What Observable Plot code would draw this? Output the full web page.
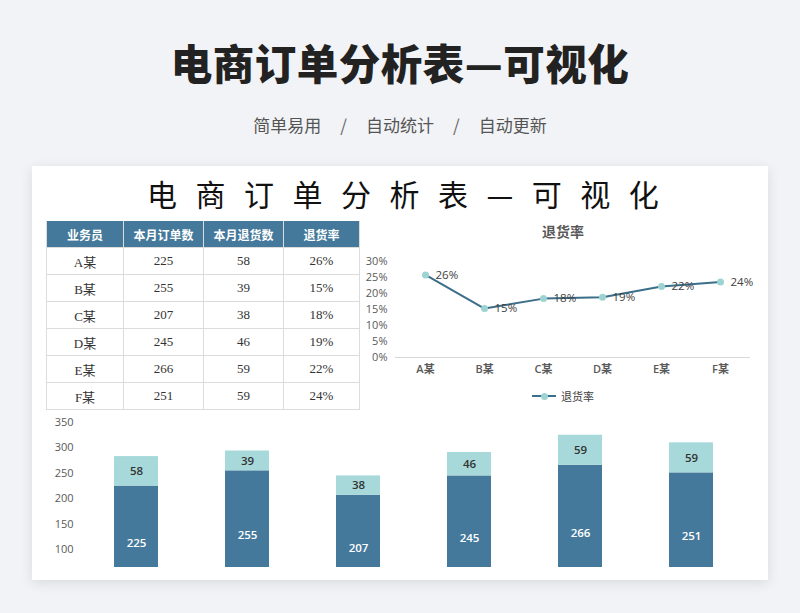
<!DOCTYPE html>
<html><head><meta charset="utf-8">
<script src="https://cdn.jsdelivr.net/npm/d3@7"></script>
<script src="https://cdn.jsdelivr.net/npm/@observablehq/plot@0.6"></script>
<style>
body{margin:0;background:#f2f3f6;font-family:"Noto Sans CJK SC","Noto Sans",sans-serif;}
#page{position:relative;width:800px;height:613px;overflow:hidden;}
#title{position:absolute;left:0;top:37px;width:800px;text-align:center;font-size:41.5px;line-height:50px;font-weight:900;color:#222;letter-spacing:0.5px;}
#sub{position:absolute;left:0;top:114px;width:800px;text-align:center;font-size:17px;line-height:22px;color:#555;}
#sub .sl{margin:0 19px;color:#666;}
#card{position:absolute;left:32px;top:166px;width:736px;height:414px;background:#fff;box-shadow:0 3px 12px rgba(0,0,0,0.10);}
#ctitle{position:absolute;left:115px;top:9px;font-size:30px;line-height:36px;letter-spacing:18.5px;white-space:nowrap;color:#111;font-weight:400;}
#tbl{position:absolute;left:14px;top:55px;border-collapse:collapse;width:313px;table-layout:fixed;}
#tbl th{background:#44799b;color:#fff;font-size:12px;font-weight:700;height:26px;padding:0;border:1px solid #dcdcdc;border-top:none;text-align:center;}
#tbl td{height:26px;padding:0;border:1px solid #dcdcdc;text-align:center;font-family:"Liberation Serif","Noto Sans CJK SC",serif;font-size:13px;color:#333;}
#ltitle{position:absolute;left:481px;top:55px;width:100px;text-align:center;font-size:14px;font-weight:700;color:#595959;}
#line{position:absolute;left:328px;top:74px;}
#legend{position:absolute;left:500px;top:222px;font-size:11px;color:#404040;display:flex;align-items:center;white-space:nowrap;}
#legend .ln{position:relative;width:24px;height:2px;background:#3b6e89;margin-right:5px;}
#legend .ln i{position:absolute;left:9px;top:-2.5px;width:7px;height:7px;border-radius:50%;background:#9ed3d3;}
#bar{position:absolute;left:0;top:244px;}
</style></head><body>
<div id="page">
  <div id="title">电商订单分析表—可视化</div>
  <div id="sub"><span>简单易用</span><span class="sl">/</span><span>自动统计</span><span class="sl">/</span><span>自动更新</span></div>
  <div id="card">
    <div id="ctitle">电商订单分析表—可视化</div>
    <table id="tbl"></table>
    <div id="ltitle">退货率</div>
    <div id="line"></div>
    <div id="legend"><div class="ln"><i></i></div><span>退货率</span></div>
    <div id="bar"></div>
  </div>
</div>
<script>
const names = ["A某","B某","C某","D某","E某","F某"];
const orders = [225,255,207,245,266,251];
const returns = [58,39,38,46,59,59];
const rates = [0.258,0.153,0.184,0.188,0.222,0.236];
const rateLabels = ["26%","15%","18%","19%","22%","24%"];
const headers = ["业务员","本月订单数","本月退货数","退货率"];
const pctTicks = [0,0.05,0.1,0.15,0.2,0.25,0.3];
const barTicks = [100,150,200,250,300,350];

const DARK = "#45799b", LIGHT = "#a7d9da";
const FONT = "'Open Sans','Noto Sans CJK SC',sans-serif";

// table
const tbl = document.getElementById("tbl");
const colW = [77,80,80,76];
let html = "<colgroup>" + colW.map(w=>`<col style="width:${w}px">`).join("") + "</colgroup>";
html += "<tr>" + headers.map(h=>`<th>${h}</th>`).join("") + "</tr>";
names.forEach((n,i)=>{
  html += `<tr><td>${n}</td><td>${orders[i]}</td><td>${returns[i]}</td><td>${rateLabels[i]}</td></tr>`;
});
tbl.innerHTML = html;

// line chart
const lineData = names.map((n,i)=>({name:n, rate:rates[i], label:rateLabels[i]}));
const linePlot = Plot.plot({
  width:400, height:140,
  marginLeft:35, marginRight:10, marginTop:21, marginBottom:23,
  style:{fontFamily:FONT, fontSize:"11px", color:"#595959", background:"transparent", overflow:"visible"},
  x:{type:"point", domain:names, padding:0.5, label:null},
  y:{domain:[0,0.3], label:null},
  marks:[
    Plot.axisY({ticks:pctTicks, tickFormat:d3.format(".0%"), tickSize:0, tickPadding:8, label:null}),
    Plot.axisX({tickSize:0, tickPadding:8, label:null, fontWeight:600}),
    Plot.ruleY([0], {stroke:"#d9d9d9"}),
    Plot.line(lineData, {x:"name", y:"rate", stroke:"#3b6e89", strokeWidth:2}),
    Plot.dot(lineData, {x:"name", y:"rate", r:3.5, fill:"#9ed3d3", stroke:"none"}),
    Plot.text(lineData, {x:"name", y:"rate", text:"label", textAnchor:"start", dx:10, fill:"#404040", fontSize:11.5})
  ]
});
document.getElementById("line").appendChild(linePlot);

// bar chart
const barData = [];
names.forEach((n,i)=>{
  barData.push({name:n, type:"订单数", value:orders[i], fill:DARK, tfill:"#ffffff"});
});
names.forEach((n,i)=>{
  barData.push({name:n, type:"退货数", value:returns[i], fill:LIGHT, tfill:"#333333"});
});
const barPlot = Plot.plot({
  width:736, height:165,
  marginLeft:47, marginRight:20, marginTop:12, marginBottom:8,
  style:{fontFamily:FONT, fontSize:"11px", color:"#595959", background:"transparent", overflow:"visible"},
  x:{domain:names, paddingInner:0.6, paddingOuter:0.3, axis:null, label:null},
  y:{domain:[65,350], label:null},
  color:{type:"identity"},
  marks:[
    Plot.axisY({ticks:barTicks, tickSize:0, tickPadding:6, label:null}),
    Plot.barY(barData, Plot.stackY({x:"name", y:"value", z:"type", fill:"fill", clip:true})),
    Plot.text(barData, Plot.stackY({x:"name", y:"value", z:"type", text:"value", fill:"tfill", fontSize:11.5, fontWeight:600}))
  ]
});
document.getElementById("bar").appendChild(barPlot);
</script>
</body></html>
